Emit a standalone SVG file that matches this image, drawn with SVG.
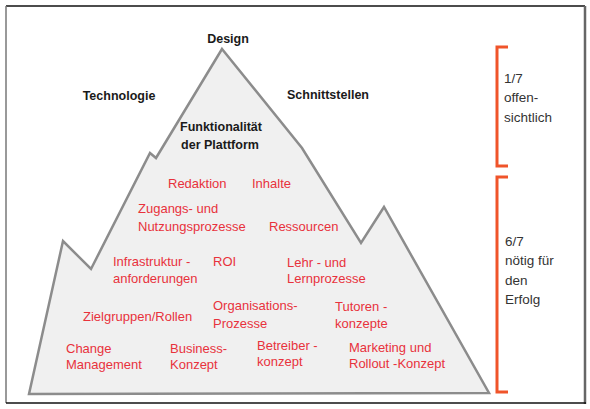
<svg xmlns="http://www.w3.org/2000/svg" width="590" height="409" viewBox="0 0 590 409">
<style>
.b{font-family:"Liberation Sans",Arial,sans-serif;font-weight:bold;font-size:12.5px;fill:#1a1a1a}
.r{font-family:"Liberation Sans",Arial,sans-serif;font-size:13px;fill:#e8323c}
.k{font-family:"Liberation Sans",Arial,sans-serif;font-size:13.5px;fill:#333}
.br{fill:none;stroke:#f0542a;stroke-width:3}
</style>
<rect width="590" height="409" fill="#fff"/>
<g id="frame">
<line x1="6" y1="6" x2="585" y2="6" stroke="#111" stroke-width="1.5"/>
<line x1="6" y1="6" x2="6" y2="403" stroke="#777" stroke-width="1.5"/>
<line x1="585" y1="6" x2="585" y2="404" stroke="#666" stroke-width="2.5"/>
<line x1="6" y1="403" x2="586" y2="403" stroke="#111" stroke-width="1.5"/>
</g>
<g id="mountain">
<polygon points="222,49 302,148 361,243 384,207 489,393 29,394 63,241 91,269 150,153 156,158" fill="#f0f0f0" stroke="#8c8c8c" stroke-width="2.5" stroke-linejoin="miter"/>
</g>
<g id="labels-top">
<text class="b" x="228" y="43" text-anchor="middle">Design</text>
<text class="b" x="119" y="100" text-anchor="middle">Technologie</text>
<text class="b" x="328" y="99" text-anchor="middle">Schnittstellen</text>
<text class="b" x="221" y="131" text-anchor="middle">Funktionalität</text>
<text class="b" x="220" y="149" text-anchor="middle">der Plattform</text>
</g>
<g id="labels-red">
<text class="r" x="168" y="188">Redaktion</text>
<text class="r" x="252" y="188">Inhalte</text>
<text class="r" x="138" y="213">Zugangs- und</text>
<text class="r" x="138" y="231">Nutzungsprozesse</text>
<text class="r" x="269" y="231">Ressourcen</text>
<text class="r" x="113" y="266">Infrastruktur  -</text>
<text class="r" x="113" y="283">anforderungen</text>
<text class="r" x="213" y="266">ROI</text>
<text class="r" x="287" y="267">Lehr - und</text>
<text class="r" x="287" y="283">Lernprozesse</text>
<text class="r" x="83" y="321">Zielgruppen/Rollen</text>
<text class="r" x="213" y="310">Organisations-</text>
<text class="r" x="213" y="328">Prozesse</text>
<text class="r" x="335" y="311">Tutoren -</text>
<text class="r" x="335" y="328">konzepte</text>
<text class="r" x="66" y="353">Change</text>
<text class="r" x="66" y="369">Management</text>
<text class="r" x="170" y="353">Business-</text>
<text class="r" x="170" y="369">Konzept</text>
<text class="r" x="257" y="350">Betreiber -</text>
<text class="r" x="257" y="366">konzept</text>
<text class="r" x="349" y="352">Marketing und</text>
<text class="r" x="349" y="368">Rollout -Konzept</text>
</g>
<g id="bracket-top">
<polyline class="br" points="508,47 497,47 497,166 508,166"/>
<text class="k" x="504" y="83">1/7</text>
<text class="k" x="504" y="102">offen-</text>
<text class="k" x="504" y="122">sichtlich</text>
</g>
<g id="bracket-bottom">
<polyline class="br" points="508,177 497,177 497,392 508,392"/>
<text class="k" x="505" y="246">6/7</text>
<text class="k" x="505" y="265">nötig für</text>
<text class="k" x="505" y="285">den</text>
<text class="k" x="505" y="304">Erfolg</text>
</g>
</svg>
